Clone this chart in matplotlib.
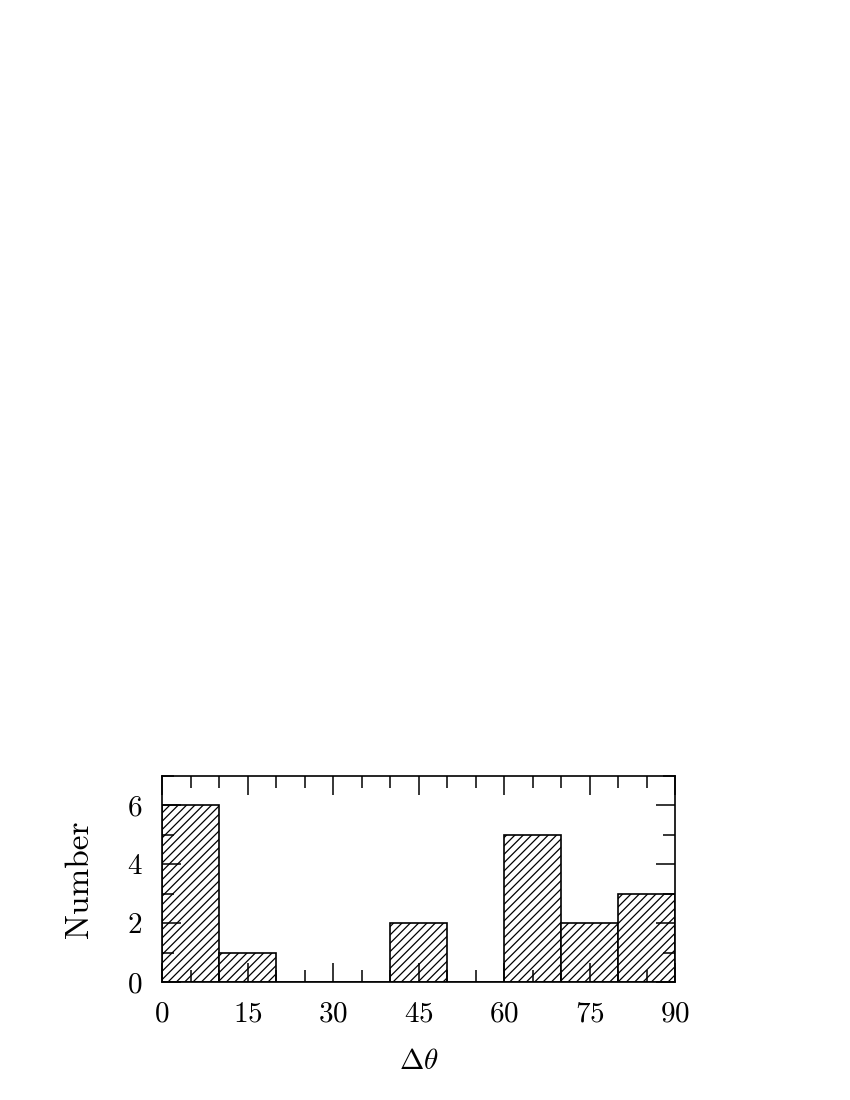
import matplotlib
matplotlib.use("Agg")
import matplotlib.pyplot as plt
from matplotlib.ticker import MultipleLocator
import numpy as np

bin_edges = [0, 10, 20, 30, 40, 50, 60, 70, 80, 90]
counts = [6, 1, 0, 0, 2, 0, 5, 2, 3]
x_ticks = [0, 15, 30, 45, 60, 75, 90]
y_ticks = [0, 2, 4, 6]

plt.rcParams['font.family'] = ['cmr10']
plt.rcParams['mathtext.fontset'] = 'cm'
plt.rcParams['axes.formatter.use_mathtext'] = True
plt.rcParams['hatch.linewidth'] = 0.9

fig = plt.figure(figsize=(8.5, 11), dpi=100)
ax = fig.add_axes([162/850, 1-982/1100, (675-162)/850, (982-776)/1100])

edges = np.array(bin_edges)
ax.bar(edges[:-1], counts, width=np.diff(edges), align='edge',
       facecolor='white', edgecolor='black', hatch='////', linewidth=1.2)

ax.set_xlim(0, 90)
ax.set_ylim(0, 7)
ax.set_xticks(x_ticks)
ax.set_yticks(y_ticks)
ax.xaxis.set_minor_locator(MultipleLocator(5))
ax.yaxis.set_minor_locator(MultipleLocator(1))
ax.tick_params(which='both', direction='in', top=True, right=True, width=1.1)
ax.tick_params(which='major', length=14, labelsize=21, pad=14)
ax.tick_params(which='minor', length=8.5)
for s in ax.spines.values():
    s.set_linewidth(1.2)

ax.set_xlabel(r'$\Delta\theta$', fontsize=21, labelpad=15)
ax.set_ylabel('Number', fontsize=24, labelpad=24)

fig.savefig('out.png', dpi=100)
